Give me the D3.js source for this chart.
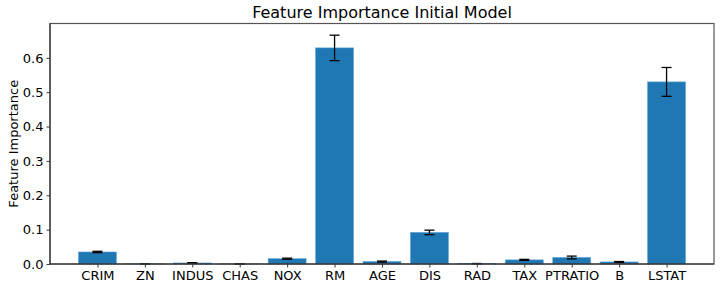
<!DOCTYPE html>
<html>
<head>
<meta charset="utf-8">
<script src="https://cdn.jsdelivr.net/npm/d3@7"></script>
<style>
  body { margin: 0; background: #fff; }
  text { font-family: "DejaVu Sans", sans-serif; fill: #000; }
</style>
</head>
<body>
<div id="chart"></div>
<script>
var features = ["CRIM", "ZN", "INDUS", "CHAS", "NOX", "RM", "AGE", "DIS", "RAD", "TAX", "PTRATIO", "B", "LSTAT"];
var importance = [0.035, 0.0005, 0.003, 0.0003, 0.0155, 0.629, 0.007, 0.092, 0.001, 0.012, 0.019, 0.006, 0.530];
var errors = [0.002, 0.0003, 0.001, 0.0002, 0.0015, 0.037, 0.0015, 0.0065, 0.0005, 0.0015, 0.004, 0.0012, 0.042];
var yTicks = [0.0, 0.1, 0.2, 0.3, 0.4, 0.5, 0.6];

var width = 720,
    height = 290,
    margin = {top: 23.5, right: 6, bottom: 26, left: 50};

var data = features.map(function (f, i) {
    return {name: f, value: importance[i], err: errors[i]};
});

var svg = d3.select("#chart")
    .append("svg")
    .attr("width", width)
    .attr("height", height);

var x = d3.scaleLinear()
    .domain([-1, features.length])
    .range([margin.left, width - margin.right]);

var y = d3.scaleLinear()
    .domain([0, 0.7])
    .range([height - margin.bottom, margin.top]);

var barW = (x(1) - x(0)) * 0.8;

// bars
svg.selectAll(".bar")
    .data(data)
    .enter().append("rect")
    .attr("class", "bar")
    .attr("x", function (d, i) { return x(i) - barW / 2; })
    .attr("y", function (d) { return y(d.value); })
    .attr("width", barW)
    .attr("height", function (d) { return y(0) - y(d.value); })
    .style("fill", "#1f77b4")
    .style("stroke", "#5fa2d6")
    .style("stroke-width", 0.6);

// error bars
var eb = svg.selectAll(".err")
    .data(data)
    .enter().append("g")
    .attr("class", "err")
    .style("stroke", "#000")
    .style("stroke-width", 1.3);

eb.append("line")
    .attr("x1", function (d, i) { return x(i); })
    .attr("x2", function (d, i) { return x(i); })
    .attr("y1", function (d) { return y(d.value + d.err); })
    .attr("y2", function (d) { return y(Math.max(0, d.value - d.err)); });

[1, -1].forEach(function (s) {
    eb.append("line")
        .attr("x1", function (d, i) { return x(i) - 5; })
        .attr("x2", function (d, i) { return x(i) + 5; })
        .attr("y1", function (d) { return y(Math.max(0, d.value + s * d.err)); })
        .attr("y2", function (d) { return y(Math.max(0, d.value + s * d.err)); });
});

// axes
var xAxis = d3.axisBottom(x)
    .tickValues(d3.range(features.length))
    .tickFormat(function (i) { return features[i]; })
    .tickSize(3.5)
    .tickPadding(3);

var yAxis = d3.axisLeft(y)
    .tickValues(yTicks)
    .tickFormat(d3.format(".1f"))
    .tickSize(3.5)
    .tickPadding(3);

var gx = svg.append("g")
    .attr("transform", "translate(0," + y(0) + ")")
    .call(xAxis);

var gy = svg.append("g")
    .attr("transform", "translate(" + x(-1) + ",0)")
    .call(yAxis);

[gx, gy].forEach(function (g) {
    g.select(".domain").remove();
    g.selectAll(".tick line").style("stroke", "#222").style("stroke-width", 0.9);
    g.selectAll(".tick text")
        .style("font-family", "DejaVu Sans, sans-serif")
        .style("font-size", "13px")
        .style("fill", "#000");
});

// frame
svg.append("rect")
    .attr("x", x(-1))
    .attr("y", y(0.7))
    .attr("width", x(features.length) - x(-1))
    .attr("height", y(0) - y(0.7))
    .style("fill", "none")
    .style("stroke", "#555")
    .style("stroke-width", 1.2);

svg.append("line")
    .attr("x1", x(-1)).attr("x2", x(-1))
    .attr("y1", y(0.7)).attr("y2", y(0))
    .style("stroke", "#222").style("stroke-width", 1);
svg.append("line")
    .attr("x1", x(-1)).attr("x2", x(features.length))
    .attr("y1", y(0)).attr("y2", y(0))
    .style("stroke", "#222").style("stroke-width", 1);

// title
svg.append("text")
    .attr("x", (x(-1) + x(features.length)) / 2)
    .attr("y", 18)
    .attr("text-anchor", "middle")
    .style("font-size", "16px")
    .text("Feature Importance Initial Model");

// y label
svg.append("text")
    .attr("transform", "translate(18," + ((y(0) + y(0.7)) / 2) + ") rotate(-90)")
    .attr("text-anchor", "middle")
    .style("font-size", "13px")
    .text("Feature Importance");
</script>
</body>
</html>
